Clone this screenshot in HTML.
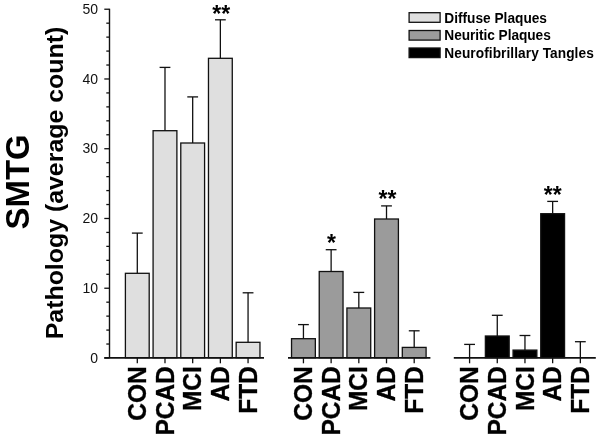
<!DOCTYPE html>
<html><head><meta charset="utf-8"><style>
html,body{margin:0;padding:0;background:#fff;}
body{width:600px;height:439px;position:relative;overflow:hidden;font-family:"Liberation Sans",sans-serif;}
</style></head><body>
<svg width="600" height="439" viewBox="0 0 600 439" style="position:absolute;left:0;top:0;will-change:transform">
<rect x="125.40" y="273.30" width="23.80" height="84.40" fill="#dfdfdf" stroke="#111111" stroke-width="1.3"/>
<line x1="137.30" y1="273.30" x2="137.30" y2="233.10" stroke="#111111" stroke-width="1.3"/>
<line x1="131.90" y1="233.10" x2="142.70" y2="233.10" stroke="#111111" stroke-width="1.3"/>
<line x1="137.30" y1="357.70" x2="137.30" y2="363.3" stroke="#111111" stroke-width="1.3"/>
<rect x="153.09" y="130.70" width="23.80" height="227.00" fill="#dfdfdf" stroke="#111111" stroke-width="1.3"/>
<line x1="164.99" y1="130.70" x2="164.99" y2="67.40" stroke="#111111" stroke-width="1.3"/>
<line x1="159.59" y1="67.40" x2="170.39" y2="67.40" stroke="#111111" stroke-width="1.3"/>
<line x1="164.99" y1="357.70" x2="164.99" y2="363.3" stroke="#111111" stroke-width="1.3"/>
<rect x="180.78" y="143.00" width="23.80" height="214.70" fill="#dfdfdf" stroke="#111111" stroke-width="1.3"/>
<line x1="192.68" y1="143.00" x2="192.68" y2="96.90" stroke="#111111" stroke-width="1.3"/>
<line x1="187.28" y1="96.90" x2="198.08" y2="96.90" stroke="#111111" stroke-width="1.3"/>
<line x1="192.68" y1="357.70" x2="192.68" y2="363.3" stroke="#111111" stroke-width="1.3"/>
<rect x="208.47" y="58.30" width="23.80" height="299.40" fill="#dfdfdf" stroke="#111111" stroke-width="1.3"/>
<line x1="220.37" y1="58.30" x2="220.37" y2="19.80" stroke="#111111" stroke-width="1.3"/>
<line x1="214.97" y1="19.80" x2="225.77" y2="19.80" stroke="#111111" stroke-width="1.3"/>
<line x1="220.37" y1="357.70" x2="220.37" y2="363.3" stroke="#111111" stroke-width="1.3"/>
<rect x="236.16" y="342.30" width="23.80" height="15.40" fill="#dfdfdf" stroke="#111111" stroke-width="1.3"/>
<line x1="248.06" y1="342.30" x2="248.06" y2="292.80" stroke="#111111" stroke-width="1.3"/>
<line x1="242.66" y1="292.80" x2="253.46" y2="292.80" stroke="#111111" stroke-width="1.3"/>
<line x1="248.06" y1="357.70" x2="248.06" y2="363.3" stroke="#111111" stroke-width="1.3"/>
<rect x="291.54" y="338.70" width="23.80" height="19.00" fill="#9b9b9b" stroke="#111111" stroke-width="1.3"/>
<line x1="303.44" y1="338.70" x2="303.44" y2="324.60" stroke="#111111" stroke-width="1.3"/>
<line x1="298.04" y1="324.60" x2="308.84" y2="324.60" stroke="#111111" stroke-width="1.3"/>
<line x1="303.44" y1="357.70" x2="303.44" y2="363.3" stroke="#111111" stroke-width="1.3"/>
<rect x="319.23" y="271.50" width="23.80" height="86.20" fill="#9b9b9b" stroke="#111111" stroke-width="1.3"/>
<line x1="331.13" y1="271.50" x2="331.13" y2="249.70" stroke="#111111" stroke-width="1.3"/>
<line x1="325.73" y1="249.70" x2="336.53" y2="249.70" stroke="#111111" stroke-width="1.3"/>
<line x1="331.13" y1="357.70" x2="331.13" y2="363.3" stroke="#111111" stroke-width="1.3"/>
<rect x="346.92" y="308.00" width="23.80" height="49.70" fill="#9b9b9b" stroke="#111111" stroke-width="1.3"/>
<line x1="358.82" y1="308.00" x2="358.82" y2="292.40" stroke="#111111" stroke-width="1.3"/>
<line x1="353.42" y1="292.40" x2="364.22" y2="292.40" stroke="#111111" stroke-width="1.3"/>
<line x1="358.82" y1="357.70" x2="358.82" y2="363.3" stroke="#111111" stroke-width="1.3"/>
<rect x="374.61" y="219.00" width="23.80" height="138.70" fill="#9b9b9b" stroke="#111111" stroke-width="1.3"/>
<line x1="386.51" y1="219.00" x2="386.51" y2="205.90" stroke="#111111" stroke-width="1.3"/>
<line x1="381.11" y1="205.90" x2="391.91" y2="205.90" stroke="#111111" stroke-width="1.3"/>
<line x1="386.51" y1="357.70" x2="386.51" y2="363.3" stroke="#111111" stroke-width="1.3"/>
<rect x="402.30" y="347.40" width="23.80" height="10.30" fill="#9b9b9b" stroke="#111111" stroke-width="1.3"/>
<line x1="414.20" y1="347.40" x2="414.20" y2="330.80" stroke="#111111" stroke-width="1.3"/>
<line x1="408.80" y1="330.80" x2="419.60" y2="330.80" stroke="#111111" stroke-width="1.3"/>
<line x1="414.20" y1="357.70" x2="414.20" y2="363.3" stroke="#111111" stroke-width="1.3"/>
<line x1="469.58" y1="357.70" x2="469.58" y2="344.40" stroke="#111111" stroke-width="1.3"/>
<line x1="464.18" y1="344.40" x2="474.98" y2="344.40" stroke="#111111" stroke-width="1.3"/>
<line x1="469.58" y1="357.70" x2="469.58" y2="363.3" stroke="#111111" stroke-width="1.3"/>
<rect x="485.37" y="336.00" width="23.80" height="21.70" fill="#000000" stroke="#111111" stroke-width="1.3"/>
<line x1="497.27" y1="336.00" x2="497.27" y2="315.30" stroke="#111111" stroke-width="1.3"/>
<line x1="491.87" y1="315.30" x2="502.67" y2="315.30" stroke="#111111" stroke-width="1.3"/>
<line x1="497.27" y1="357.70" x2="497.27" y2="363.3" stroke="#111111" stroke-width="1.3"/>
<rect x="513.06" y="350.10" width="23.80" height="7.60" fill="#000000" stroke="#111111" stroke-width="1.3"/>
<line x1="524.96" y1="350.10" x2="524.96" y2="335.50" stroke="#111111" stroke-width="1.3"/>
<line x1="519.56" y1="335.50" x2="530.36" y2="335.50" stroke="#111111" stroke-width="1.3"/>
<line x1="524.96" y1="357.70" x2="524.96" y2="363.3" stroke="#111111" stroke-width="1.3"/>
<rect x="540.75" y="213.70" width="23.80" height="144.00" fill="#000000" stroke="#111111" stroke-width="1.3"/>
<line x1="552.65" y1="213.70" x2="552.65" y2="201.40" stroke="#111111" stroke-width="1.3"/>
<line x1="547.25" y1="201.40" x2="558.05" y2="201.40" stroke="#111111" stroke-width="1.3"/>
<line x1="552.65" y1="357.70" x2="552.65" y2="363.3" stroke="#111111" stroke-width="1.3"/>
<line x1="580.34" y1="357.70" x2="580.34" y2="341.70" stroke="#111111" stroke-width="1.3"/>
<line x1="574.94" y1="341.70" x2="585.74" y2="341.70" stroke="#111111" stroke-width="1.3"/>
<line x1="580.34" y1="357.70" x2="580.34" y2="363.3" stroke="#111111" stroke-width="1.3"/>
<line x1="104.3" y1="357.84999999999997" x2="264" y2="357.84999999999997" stroke="#111111" stroke-width="1.6"/>
<line x1="288.0" y1="357.84999999999997" x2="430.4" y2="357.84999999999997" stroke="#111111" stroke-width="1.6"/>
<line x1="453.8" y1="357.84999999999997" x2="595.8" y2="357.84999999999997" stroke="#111111" stroke-width="1.6"/>
<line x1="109.5" y1="8.63" x2="109.5" y2="357.70" stroke="#111111" stroke-width="1.4"/>
<line x1="104.3" y1="357.98" x2="109.5" y2="357.98" stroke="#111111" stroke-width="1.3"/>
<line x1="106.3" y1="344.03" x2="109.5" y2="344.03" stroke="#111111" stroke-width="1.3"/>
<line x1="106.3" y1="330.08" x2="109.5" y2="330.08" stroke="#111111" stroke-width="1.3"/>
<line x1="106.3" y1="316.13" x2="109.5" y2="316.13" stroke="#111111" stroke-width="1.3"/>
<line x1="106.3" y1="302.18" x2="109.5" y2="302.18" stroke="#111111" stroke-width="1.3"/>
<line x1="104.3" y1="288.23" x2="109.5" y2="288.23" stroke="#111111" stroke-width="1.3"/>
<line x1="106.3" y1="274.28" x2="109.5" y2="274.28" stroke="#111111" stroke-width="1.3"/>
<line x1="106.3" y1="260.33" x2="109.5" y2="260.33" stroke="#111111" stroke-width="1.3"/>
<line x1="106.3" y1="246.38" x2="109.5" y2="246.38" stroke="#111111" stroke-width="1.3"/>
<line x1="106.3" y1="232.43" x2="109.5" y2="232.43" stroke="#111111" stroke-width="1.3"/>
<line x1="104.3" y1="218.48" x2="109.5" y2="218.48" stroke="#111111" stroke-width="1.3"/>
<line x1="106.3" y1="204.53" x2="109.5" y2="204.53" stroke="#111111" stroke-width="1.3"/>
<line x1="106.3" y1="190.58" x2="109.5" y2="190.58" stroke="#111111" stroke-width="1.3"/>
<line x1="106.3" y1="176.63" x2="109.5" y2="176.63" stroke="#111111" stroke-width="1.3"/>
<line x1="106.3" y1="162.68" x2="109.5" y2="162.68" stroke="#111111" stroke-width="1.3"/>
<line x1="104.3" y1="148.73" x2="109.5" y2="148.73" stroke="#111111" stroke-width="1.3"/>
<line x1="106.3" y1="134.78" x2="109.5" y2="134.78" stroke="#111111" stroke-width="1.3"/>
<line x1="106.3" y1="120.83" x2="109.5" y2="120.83" stroke="#111111" stroke-width="1.3"/>
<line x1="106.3" y1="106.88" x2="109.5" y2="106.88" stroke="#111111" stroke-width="1.3"/>
<line x1="106.3" y1="92.93" x2="109.5" y2="92.93" stroke="#111111" stroke-width="1.3"/>
<line x1="104.3" y1="78.98" x2="109.5" y2="78.98" stroke="#111111" stroke-width="1.3"/>
<line x1="106.3" y1="65.03" x2="109.5" y2="65.03" stroke="#111111" stroke-width="1.3"/>
<line x1="106.3" y1="51.08" x2="109.5" y2="51.08" stroke="#111111" stroke-width="1.3"/>
<line x1="106.3" y1="37.13" x2="109.5" y2="37.13" stroke="#111111" stroke-width="1.3"/>
<line x1="106.3" y1="23.18" x2="109.5" y2="23.18" stroke="#111111" stroke-width="1.3"/>
<line x1="104.3" y1="9.23" x2="109.5" y2="9.23" stroke="#111111" stroke-width="1.3"/>
<text x="98.0" y="362.73" text-anchor="end" font-family="Liberation Sans" font-size="14" fill="#111">0</text>
<text x="98.0" y="292.98" text-anchor="end" font-family="Liberation Sans" font-size="14" fill="#111">10</text>
<text x="98.0" y="223.23" text-anchor="end" font-family="Liberation Sans" font-size="14" fill="#111">20</text>
<text x="98.0" y="153.48" text-anchor="end" font-family="Liberation Sans" font-size="14" fill="#111">30</text>
<text x="98.0" y="83.73" text-anchor="end" font-family="Liberation Sans" font-size="14" fill="#111">40</text>
<text x="98.0" y="13.98" text-anchor="end" font-family="Liberation Sans" font-size="14" fill="#111">50</text>
<text x="221.2" y="21.70" text-anchor="middle" font-family="Liberation Sans" font-weight="bold" font-size="23" fill="#000">**</text>
<text x="331.4" y="250.90" text-anchor="middle" font-family="Liberation Sans" font-weight="bold" font-size="23" fill="#000">*</text>
<text x="387.5" y="207.40" text-anchor="middle" font-family="Liberation Sans" font-weight="bold" font-size="23" fill="#000">**</text>
<text x="552.8" y="203.00" text-anchor="middle" font-family="Liberation Sans" font-weight="bold" font-size="23" fill="#000">**</text>
<text transform="translate(145.90,366.2) rotate(-90) scale(1,1.05)" text-anchor="end" font-family="Liberation Sans" font-weight="bold" font-size="24.5" fill="#000" stroke="#000" stroke-width="0.3">CON</text>
<text transform="translate(173.59,366.2) rotate(-90) scale(1,1.05)" text-anchor="end" font-family="Liberation Sans" font-weight="bold" font-size="24.5" fill="#000" stroke="#000" stroke-width="0.3">PCAD</text>
<text transform="translate(201.28,366.2) rotate(-90) scale(1,1.05)" text-anchor="end" font-family="Liberation Sans" font-weight="bold" font-size="24.5" fill="#000" stroke="#000" stroke-width="0.3">MCI</text>
<text transform="translate(228.97,366.2) rotate(-90) scale(1,1.05)" text-anchor="end" font-family="Liberation Sans" font-weight="bold" font-size="24.5" fill="#000" stroke="#000" stroke-width="0.3">AD</text>
<text transform="translate(256.66,366.2) rotate(-90) scale(1,1.05)" text-anchor="end" font-family="Liberation Sans" font-weight="bold" font-size="24.5" fill="#000" stroke="#000" stroke-width="0.3">FTD</text>
<text transform="translate(312.04,366.2) rotate(-90) scale(1,1.05)" text-anchor="end" font-family="Liberation Sans" font-weight="bold" font-size="24.5" fill="#000" stroke="#000" stroke-width="0.3">CON</text>
<text transform="translate(339.73,366.2) rotate(-90) scale(1,1.05)" text-anchor="end" font-family="Liberation Sans" font-weight="bold" font-size="24.5" fill="#000" stroke="#000" stroke-width="0.3">PCAD</text>
<text transform="translate(367.42,366.2) rotate(-90) scale(1,1.05)" text-anchor="end" font-family="Liberation Sans" font-weight="bold" font-size="24.5" fill="#000" stroke="#000" stroke-width="0.3">MCI</text>
<text transform="translate(395.11,366.2) rotate(-90) scale(1,1.05)" text-anchor="end" font-family="Liberation Sans" font-weight="bold" font-size="24.5" fill="#000" stroke="#000" stroke-width="0.3">AD</text>
<text transform="translate(422.80,366.2) rotate(-90) scale(1,1.05)" text-anchor="end" font-family="Liberation Sans" font-weight="bold" font-size="24.5" fill="#000" stroke="#000" stroke-width="0.3">FTD</text>
<text transform="translate(478.18,366.2) rotate(-90) scale(1,1.05)" text-anchor="end" font-family="Liberation Sans" font-weight="bold" font-size="24.5" fill="#000" stroke="#000" stroke-width="0.3">CON</text>
<text transform="translate(505.87,366.2) rotate(-90) scale(1,1.05)" text-anchor="end" font-family="Liberation Sans" font-weight="bold" font-size="24.5" fill="#000" stroke="#000" stroke-width="0.3">PCAD</text>
<text transform="translate(533.56,366.2) rotate(-90) scale(1,1.05)" text-anchor="end" font-family="Liberation Sans" font-weight="bold" font-size="24.5" fill="#000" stroke="#000" stroke-width="0.3">MCI</text>
<text transform="translate(561.25,366.2) rotate(-90) scale(1,1.05)" text-anchor="end" font-family="Liberation Sans" font-weight="bold" font-size="24.5" fill="#000" stroke="#000" stroke-width="0.3">AD</text>
<text transform="translate(588.94,366.2) rotate(-90) scale(1,1.05)" text-anchor="end" font-family="Liberation Sans" font-weight="bold" font-size="24.5" fill="#000" stroke="#000" stroke-width="0.3">FTD</text>
<text transform="translate(29.0,229.6) rotate(-90) scale(1,1.035)" font-family="Liberation Sans" font-weight="bold" font-size="33" fill="#000">SMTG</text>
<text transform="translate(63.1,339.3) rotate(-90) scale(1,0.93)" font-family="Liberation Sans" font-weight="bold" font-size="24.9" fill="#000">Pathology (average count)</text>
<rect x="409.1" y="12.70" width="31" height="9.6" fill="#dfdfdf" stroke="#111111" stroke-width="1.3"/>
<text transform="translate(444.3,22.50) scale(1,1.07)" font-family="Liberation Sans" font-weight="bold" font-size="13.7" letter-spacing="0" fill="#000">Diffuse Plaques</text>
<rect x="409.1" y="30.50" width="31" height="9.6" fill="#9b9b9b" stroke="#111111" stroke-width="1.3"/>
<text transform="translate(444.3,40.30) scale(1,1.07)" font-family="Liberation Sans" font-weight="bold" font-size="13.7" letter-spacing="-0.05" fill="#000">Neuritic Plaques</text>
<rect x="409.1" y="48.00" width="31" height="9.6" fill="#000000" stroke="#111111" stroke-width="1.3"/>
<text transform="translate(444.3,57.80) scale(1,1.07)" font-family="Liberation Sans" font-weight="bold" font-size="13.7" letter-spacing="0.065" fill="#000">Neurofibrillary Tangles</text>
</svg>
</body></html>
